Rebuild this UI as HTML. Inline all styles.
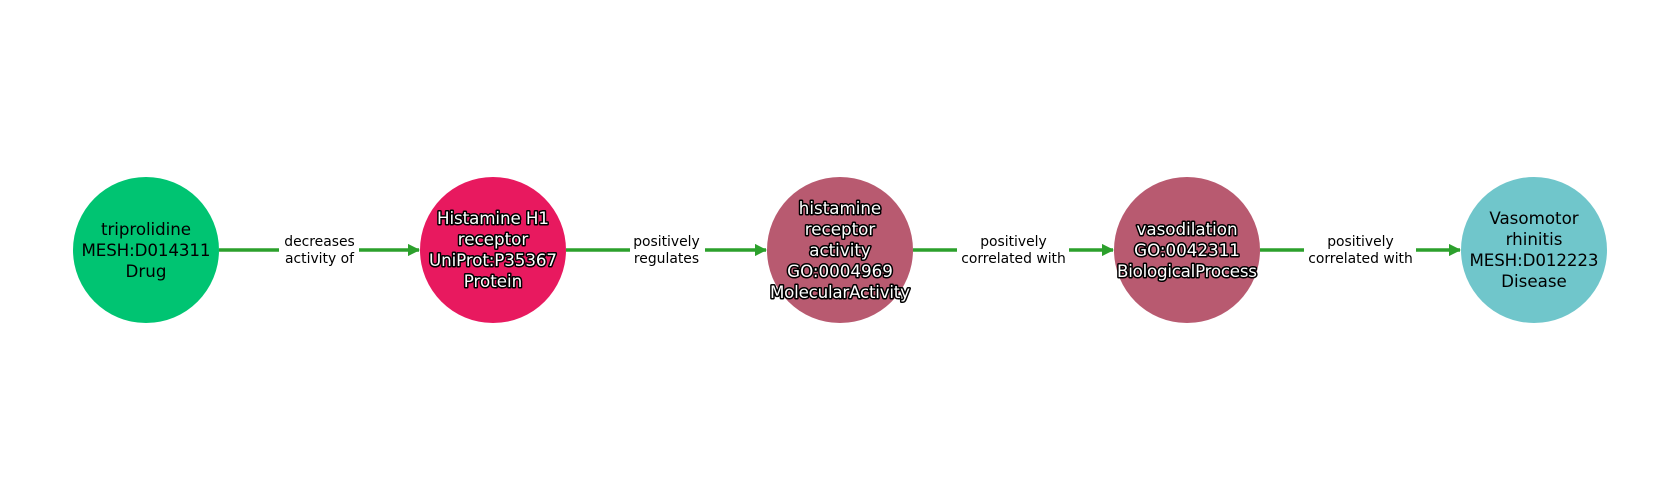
<!DOCTYPE html>
<html><head><meta charset="utf-8"><style>
html,body{margin:0;padding:0;background:#fff;}
svg{display:block;}
.n{font-family:"DejaVu Sans","Liberation Sans",sans-serif;font-size:16.7px;text-anchor:middle;fill:#000;}
.w{fill:#fff;stroke:#000;stroke-width:3px;paint-order:stroke;stroke-linejoin:round;}
.e{font-family:"DejaVu Sans","Liberation Sans",sans-serif;font-size:13.9px;text-anchor:middle;fill:#000;}
</style></head><body>
<svg width="1680" height="500" viewBox="0 0 1680 500" xmlns="http://www.w3.org/2000/svg">
<defs><marker id="a" markerWidth="12" markerHeight="12" refX="11" refY="6" orient="auto" markerUnits="userSpaceOnUse"><path d="M0,0.5 L11,6 L0,11.5 z" fill="#2ca02c" stroke="#2ca02c" stroke-width="1" stroke-linejoin="round"/></marker></defs>
<g stroke="#2ca02c" stroke-width="3.5" fill="none">
<path d="M219,250 H419" marker-end="url(#a)"/>
<path d="M566,250 H766" marker-end="url(#a)"/>
<path d="M913,250 H1113" marker-end="url(#a)"/>
<path d="M1260,250 H1460" marker-end="url(#a)"/>
</g>
<g fill="#fff">
<rect x="279" y="230" width="80" height="40"/>
<rect x="630" y="230" width="75" height="40"/>
<rect x="957" y="230" width="112" height="40"/>
<rect x="1304" y="230" width="112" height="40"/>
</g>
<g class="e">
<text x="319.5" y="246">decreases</text><text x="319.5" y="263">activity of</text>
<text x="666.5" y="246">positively</text><text x="666.5" y="263">regulates</text>
<text x="1013.5" y="246">positively</text><text x="1013.5" y="263">correlated with</text>
<text x="1360.5" y="246">positively</text><text x="1360.5" y="263">correlated with</text>
</g>
<circle cx="146" cy="250" r="73" fill="#00c472"/>
<circle cx="493" cy="250" r="73" fill="#e8195f"/>
<circle cx="840" cy="250" r="73" fill="#b85a70"/>
<circle cx="1187" cy="250" r="73" fill="#b85a70"/>
<circle cx="1534" cy="250" r="73" fill="#70c6cb"/>
<g class="n">
<text x="146" y="235" textLength="90">triprolidine</text><text x="146" y="256" textLength="129">MESH:D014311</text><text x="146" y="277">Drug</text>
<text class="w" x="493" y="224" textLength="112">Histamine H1</text><text class="w" x="493" y="245">receptor</text><text class="w" x="493" y="266" textLength="128">UniProt:P35367</text><text class="w" x="493" y="287">Protein</text>
<text class="w" x="840" y="214">histamine</text><text class="w" x="840" y="235">receptor</text><text class="w" x="840" y="256">activity</text><text class="w" x="840" y="277">GO:0004969</text><text class="w" x="840" y="298" textLength="140">MolecularActivity</text>
<text class="w" x="1187" y="235">vasodilation</text><text class="w" x="1187" y="256">GO:0042311</text><text class="w" x="1187" y="277" textLength="140">BiologicalProcess</text>
<text x="1534" y="224">Vasomotor</text><text x="1534" y="245">rhinitis</text><text x="1534" y="266" textLength="129">MESH:D012223</text><text x="1534" y="287">Disease</text>
</g>
</svg>
</body></html>
